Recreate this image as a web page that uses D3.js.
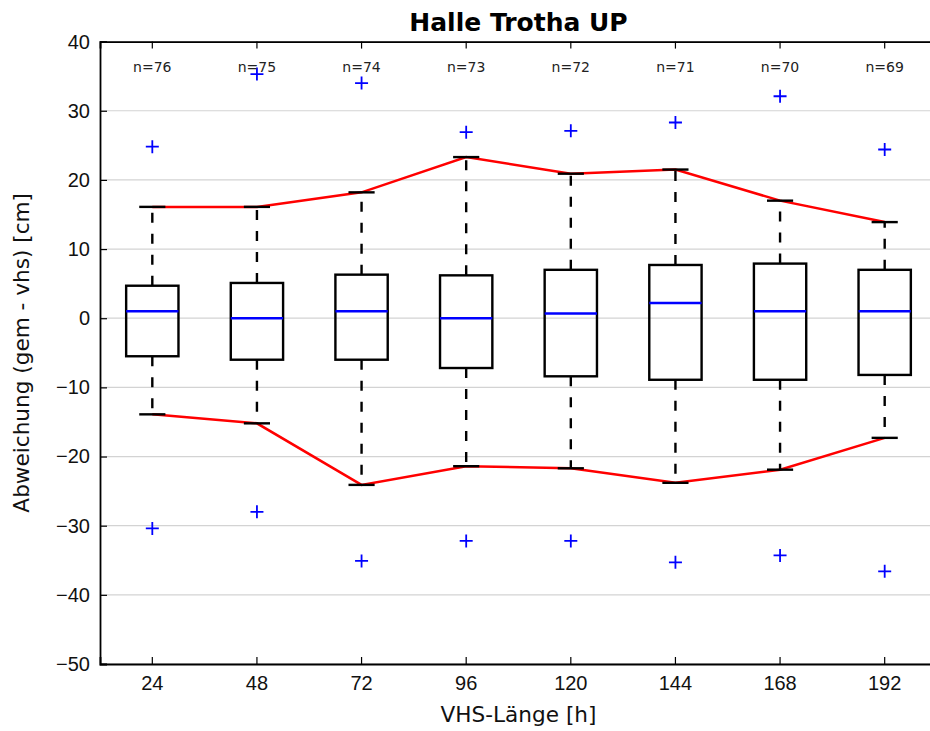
<!DOCTYPE html>
<html>
<head>
<meta charset="utf-8">
<script src="https://cdn.jsdelivr.net/npm/d3@7"></script>
<style>
  body { margin: 0; background: #fff; }
  svg { display: block; font-family: "DejaVu Sans", sans-serif; }
</style>
</head>
<body>
<svg id="chart" width="930" height="731"></svg>
<script>
// ── Data ──
const hours    = [24, 48, 72, 96, 120, 144, 168, 192];
const counts   = [76, 75, 74, 73, 72, 71, 70, 69];
const q1       = [-5.5, -6.0, -6.0, -7.2, -8.4, -8.9, -8.9, -8.2];
const q3       = [4.7, 5.1, 6.3, 6.2, 7.0, 7.7, 7.9, 7.0];
const medians  = [1.0, 0.0, 1.0, 0.0, 0.7, 2.2, 1.0, 1.0];
const whiskLo  = [-13.9, -15.2, -24.1, -21.4, -21.7, -23.8, -21.9, -17.3];
const whiskHi  = [16.1, 16.1, 18.2, 23.3, 20.9, 21.5, 17.0, 13.9];
const outHi    = [24.8, 35.3, 34.0, 26.9, 27.1, 28.3, 32.1, 24.4];
const outLo    = [-30.4, -28.0, -35.1, -32.2, -32.2, -35.3, -34.3, -36.6];
const yTicks   = [-50, -40, -30, -20, -10, 0, 10, 20, 30, 40];

const boxes = hours.map((h, i) => ({
  h, n: counts[i], q1: q1[i], q3: q3[i], med: medians[i],
  lo: whiskLo[i], hi: whiskHi[i], outHi: outHi[i], outLo: outLo[i]
}));

const margin = { top: 41.6, left: 100 };
const width  = 837;
const height = 622.4;

const svg = d3.select('#chart');
const g = svg.append('g').attr('transform', `translate(${margin.left},${margin.top})`);

const x = d3.scaleBand().domain(hours).range([0, width]).padding(0);
const y = d3.scaleLinear().domain([-50, 40]).range([height, 0]);
const cx = h => x(h) + x.bandwidth() / 2;
const boxW = x.bandwidth() * 0.5;
const capW = boxW * 0.5;

// Grid
g.append('g')
  .selectAll('line').data(yTicks).enter().append('line')
  .attr('x1', 0).attr('x2', width)
  .attr('y1', d => y(d)).attr('y2', d => y(d))
  .attr('stroke', '#d3d3d3').attr('stroke-width', 1.2);

// Red lines joining whisker caps
const capLine = key => d3.line().x(d => cx(d.h)).y(d => y(d[key]));
g.append('path').datum(boxes)
  .attr('d', capLine('hi'))
  .attr('fill', 'none').attr('stroke', '#ff0000').attr('stroke-width', 2.5);
g.append('path').datum(boxes)
  .attr('d', capLine('lo'))
  .attr('fill', 'none').attr('stroke', '#ff0000').attr('stroke-width', 2.5);

// Boxes
const bx = g.selectAll('.box').data(boxes).enter().append('g').attr('class', 'box');

bx.append('line')
  .attr('x1', d => cx(d.h)).attr('x2', d => cx(d.h))
  .attr('y1', d => y(d.q3)).attr('y2', d => y(d.hi))
  .attr('stroke', '#000').attr('stroke-width', 2.4).attr('stroke-dasharray', '10,11');
bx.append('line')
  .attr('x1', d => cx(d.h)).attr('x2', d => cx(d.h))
  .attr('y1', d => y(d.q1)).attr('y2', d => y(d.lo))
  .attr('stroke', '#000').attr('stroke-width', 2.4).attr('stroke-dasharray', '10,11');

['hi', 'lo'].forEach(k => {
  bx.append('line')
    .attr('x1', d => cx(d.h) - capW / 2).attr('x2', d => cx(d.h) + capW / 2)
    .attr('y1', d => y(d[k])).attr('y2', d => y(d[k]))
    .attr('stroke', '#000').attr('stroke-width', 2.4);
});

bx.append('rect')
  .attr('x', d => cx(d.h) - boxW / 2)
  .attr('y', d => y(d.q3))
  .attr('width', boxW)
  .attr('height', d => y(d.q1) - y(d.q3))
  .attr('fill', 'none').attr('stroke', '#000').attr('stroke-width', 2.4);

bx.append('line')
  .attr('x1', d => cx(d.h) - boxW / 2).attr('x2', d => cx(d.h) + boxW / 2)
  .attr('y1', d => y(d.med)).attr('y2', d => y(d.med))
  .attr('stroke', '#0000ff').attr('stroke-width', 2.5);

// Outliers (+)
const plus = (sel, key) => {
  sel.append('path')
    .attr('d', d => {
      const px = cx(d.h), py = y(d[key]), r = 6.5;
      return `M${px - r},${py}H${px + r}M${px},${py - r}V${py + r}`;
    })
    .attr('stroke', '#0000ff').attr('stroke-width', 1.8).attr('fill', 'none');
};
plus(bx, 'outHi');
plus(bx, 'outLo');

// n labels
g.selectAll('.nlab').data(boxes).enter().append('text')
  .attr('x', d => cx(d.h)).attr('y', 30.5)
  .attr('text-anchor', 'middle')
  .style('font-size', '14px').attr('fill', '#222')
  .text(d => 'n=' + d.n);

// Axes (classic style: inward ticks on all sides)
const xAxis = g.append('g').attr('transform', `translate(0,${height})`)
  .call(d3.axisBottom(x).tickSize(-7).tickPadding(12));
xAxis.selectAll('text').style('font-size', '20px').attr('fill', '#111');

const xTop = g.append('g')
  .call(d3.axisTop(x).tickSize(-7).tickFormat(''));

const yAxis = g.append('g')
  .call(d3.axisLeft(y).tickValues(yTicks).tickSize(-7).tickPadding(10)
    .tickFormat(d => d < 0 ? '\u2212' + Math.abs(d) : d));
yAxis.selectAll('text').style('font-size', '20px').attr('fill', '#111');

g.append('line').attr('x1', width).attr('x2', width).attr('y1', 0).attr('y2', height)
  .attr('stroke', '#000').attr('stroke-width', 1.8);

[xAxis, xTop, yAxis].forEach(a => {
  a.select('.domain').attr('stroke', '#000').attr('stroke-width', 1.8);
  a.selectAll('.tick line').attr('stroke', '#000').attr('stroke-width', 1.2);
});

// Title and labels
svg.append('text')
  .attr('x', margin.left + width / 2).attr('y', 31)
  .attr('text-anchor', 'middle')
  .style('font-size', '25px').style('font-weight', 'bold')
  .text('Halle Trotha UP');

svg.append('text')
  .attr('x', margin.left + width / 2).attr('y', 722)
  .attr('text-anchor', 'middle')
  .style('font-size', '21.6px').attr('fill', '#111')
  .text('VHS-Länge [h]');

svg.append('text')
  .attr('transform', `translate(29,${margin.top + height / 2}) rotate(-90)`)
  .attr('text-anchor', 'middle')
  .style('font-size', '21.6px').attr('fill', '#111')
  .text('Abweichung (gem - vhs) [cm]');
</script>
</body>
</html>
